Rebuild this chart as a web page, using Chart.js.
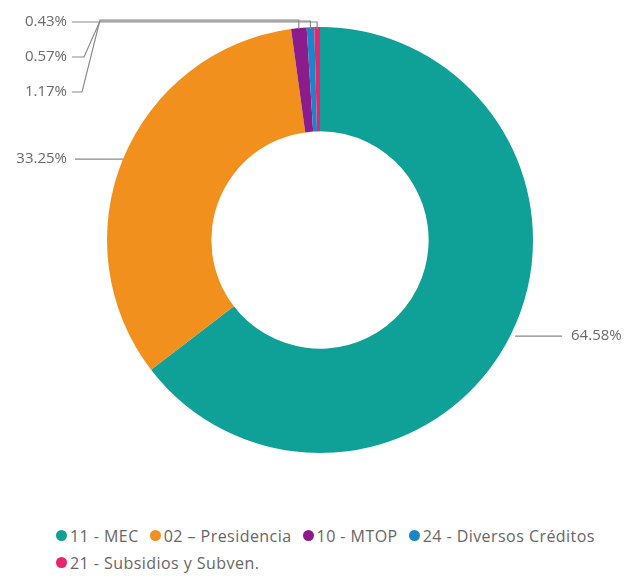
<!DOCTYPE html>
<html>
<head>
<meta charset="utf-8">
<script src="https://cdn.jsdelivr.net/npm/chart.js@4.4.0/dist/chart.umd.min.js"></script>
<style>
  body { margin: 0; background: #fff; font-family: "Segoe UI", "Open Sans", sans-serif; }
  #wrap { position: relative; width: 627px; height: 576px; }
  #legend { position: absolute; left: 56px; top: 522px; width: 568px; display: flex; flex-wrap: wrap; font-size: 16px; letter-spacing: 0.45px; color: #666; }
  .item { display: flex; align-items: center; height: 27px; margin-right: 11px; white-space: nowrap; }
  .dot { width: 11px; height: 11px; border-radius: 50%; margin-right: 3px; }
</style>
</head>
<body>
<div id="wrap">
  <canvas id="donut" width="627" height="510"></canvas>
  <div id="legend"></div>
</div>
<script>
// data
var labels = ['11 - MEC', '02 – Presidencia', '10 - MTOP', '24 - Diversos Créditos', '21 - Subsidios y Subven.'];
var values = [64.58, 33.25, 1.17, 0.57, 0.43];
var colors = ['#0FA098', '#F2901E', '#8C1C8C', '#1A86C8', '#E8246E'];

// draw percent labels with leader lines
var leaderLabels = {
  id: 'leaderLabels',
  afterDatasetsDraw: function (chart) {
    var ctx = chart.ctx;
    var arcs = chart.getDatasetMeta(0).data;
    ctx.save();
    ctx.font = '15px "Segoe UI", "Open Sans", sans-serif';
    ctx.fillStyle = '#6a6a6a';
    ctx.strokeStyle = '#8a8a8a';
    ctx.lineWidth = 1.2;
    ctx.textBaseline = 'middle';
    arcs.forEach(function (arc, i) {
      var p = arc.getProps(['x', 'y', 'startAngle', 'endAngle', 'outerRadius']);
      var mid = (p.startAngle + p.endAngle) / 2;
      var px = p.x + Math.cos(mid) * p.outerRadius;
      var py = p.y + Math.sin(mid) * p.outerRadius;
      var txt = values[i].toFixed(2) + '%';
      ctx.beginPath();
      if (i == 0) {
        ctx.moveTo(px + 4, py + 2);
        ctx.lineTo(px + 51, py + 2);
        ctx.stroke();
        ctx.textAlign = 'left';
        ctx.fillText(txt, px + 60, py + 2);
      } else if (i == 1) {
        ctx.moveTo(px, py);
        ctx.lineTo(75, py);
        ctx.stroke();
        ctx.textAlign = 'right';
        ctx.fillText(txt, 67, py);
      } else {
        // small slices routed over the top
        var k = 4 - i;
        var topY = p.y - p.outerRadius - 6 + (i - 3);
        var labY = topY + k * 36;
        ctx.moveTo(px, p.y - p.outerRadius + 2);
        ctx.lineTo(px, topY);
        ctx.lineTo(100, topY);
        if (k > 0) {
          ctx.lineTo(86 - k * 2, labY);
        }
        ctx.lineTo(72, labY);
        ctx.stroke();
        ctx.textAlign = 'right';
        ctx.fillText(txt, 67, labY);
      }
    });
    ctx.restore();
  }
};

new Chart(document.getElementById('donut'), {
  type: 'doughnut',
  data: {
    labels: labels,
    datasets: [{
      data: values,
      backgroundColor: colors,
      borderWidth: 0
    }]
  },
  options: {
    responsive: false,
    animation: false,
    cutout: '51%',
    layout: { padding: { top: 27, bottom: 57, left: 13, right: 0 } },
    plugins: {
      legend: { display: false },
      tooltip: { enabled: false }
    }
  },
  plugins: [leaderLabels]
});

// html legend
var leg = document.getElementById('legend');
labels.forEach(function (l, i) {
  var html = '<div class="item"><span class="dot" style="background:' + colors[i] + '"></span>' + l + '</div>';
  leg.insertAdjacentHTML('beforeend', html);
});
</script>
</body>
</html>
